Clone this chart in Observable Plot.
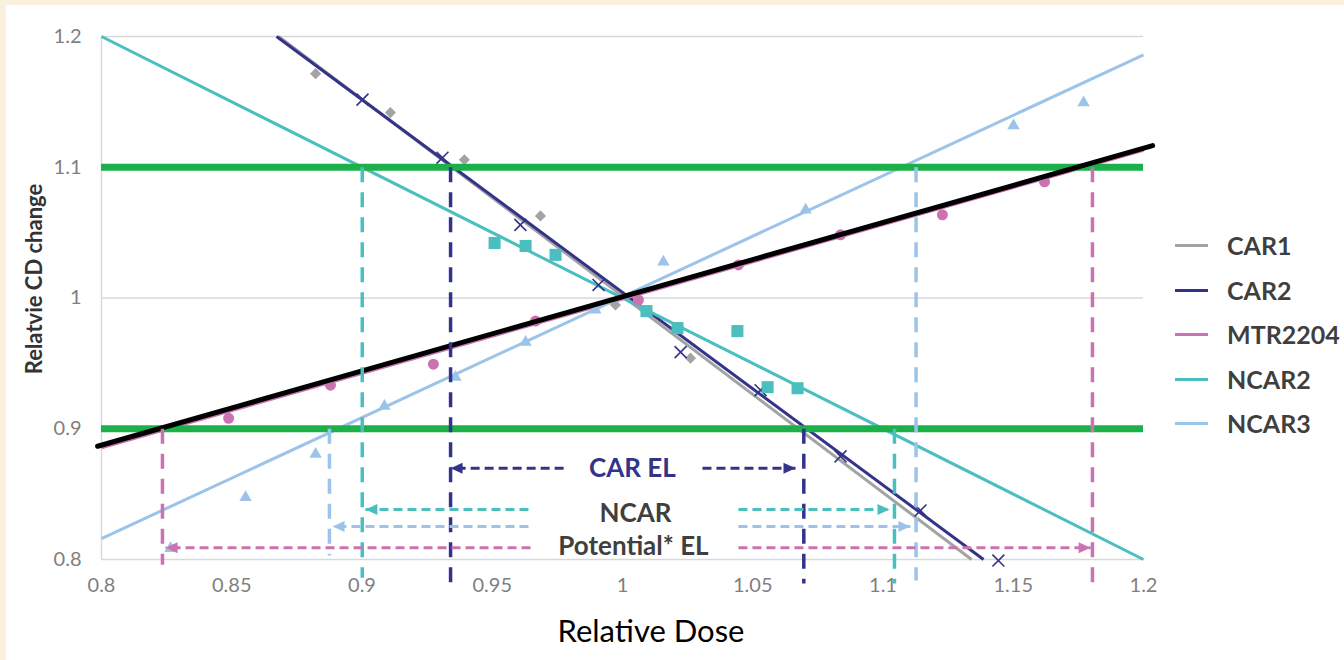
<!DOCTYPE html>
<html>
<head>
<meta charset="utf-8">
<script src="https://cdn.jsdelivr.net/npm/d3@7"></script>
<script src="https://cdn.jsdelivr.net/npm/@observablehq/plot@0.6"></script>
<style>
  html, body { margin: 0; padding: 0; width: 1344px; height: 660px; overflow: hidden; background: #FAF0DE; }
  #panel { position: absolute; left: 6px; top: 5px; right: 0; bottom: 0; background: #ffffff; }
  #chart { position: absolute; left: 0; top: 0; }
  #ylabel { position: absolute; left: 33px; top: 279px; transform: translate(-50%, -50%) rotate(-90deg);
            font: bold 22px Lato, sans-serif; color: #333333; white-space: nowrap; }
  #xlabel { position: absolute; left: 651px; top: 630px; transform: translate(-50%, -50%);
            font: 31px Lato, sans-serif; color: #000000; white-space: nowrap; }
  .sw { position: absolute; left: 1175px; width: 33px; height: 3px; }
  .lt { position: absolute; left: 1227px; transform: translateY(-50%); font: bold 25px Lato, sans-serif;
        color: #3f3f3f; white-space: nowrap; line-height: 1; }
</style>
</head>
<body>
<div id="panel"></div>
<div id="chart"></div>
<div id="ylabel">Relatvie CD change</div>
<div id="xlabel">Relative Dose</div>
<div id="legend"></div>
<script>
// ---------- data ----------
const series = ["CAR1", "CAR2", "MTR2204", "NCAR2", "NCAR3"];
const seriesColors = ["#a3a3a3", "#33338a", "#cb73b1", "#4bbfc0", "#9cc3e9"];

const xTicks = [0.8, 0.85, 0.9, 0.95, 1, 1.05, 1.1, 1.15, 1.2];
const yTicks = [0.8, 0.9, 1, 1.1, 1.2];

// fitted lines (end points)
const fitX1 = [0.868, 0.8672, 0.8, 0.8, 0.8];
const fitY1 = [1.2, 1.2, 0.8855, 1.2, 0.816];
const fitX2 = [1.134, 1.1386, 1.2, 1.2, 1.2];
const fitY2 = [0.8, 0.8, 1.113, 0.8, 1.186];

// observed points
const car1X = [0.8822, 0.9109, 0.9393, 0.9685, 0.9973, 1.0261];
const car1Y = [1.1716, 1.1418, 1.1057, 1.0628, 0.9946, 0.954];
const car2X = [0.9002, 0.9309, 0.9608, 0.9908, 1.0223, 1.053, 1.0837, 1.1144, 1.1443];
const car2Y = [1.1517, 1.1073, 1.0559, 1.01, 0.9586, 0.9295, 0.8789, 0.8375, 0.7992];
const mtrX = [0.8488, 0.8879, 0.9274, 0.9666, 1.0061, 1.0445, 1.0837, 1.1228, 1.162];
const mtrY = [0.908, 0.9333, 0.9494, 0.9824, 0.9985, 1.0253, 1.0483, 1.0636, 1.0889];
const ncar2X = [0.9509, 0.9628, 0.9743, 1.0092, 1.0211, 1.0441, 1.0557, 1.0672];
const ncar2Y = [1.0421, 1.0398, 1.033, 0.99, 0.977, 0.9747, 0.9318, 0.931];
const ncar3X = [0.8265, 0.8553, 0.8822, 0.9086, 0.9359, 0.9628, 0.9896, 1.0157, 1.0703, 1.1501, 1.177];
const ncar3Y = [0.8084, 0.8475, 0.8805, 0.9172, 0.9395, 0.9663, 0.9908, 1.0276, 1.0674, 1.1318, 1.1494];

// limits
const limitY = [0.9, 1.1];
// overall trend (black)
const trendX = [0.7985, 1.2035];
const trendY = [0.8866, 1.1165];

// vertical dashed limit markers
const vSeries = ["MTR2204", "NCAR3", "NCAR2", "CAR2", "CAR2", "NCAR2", "NCAR3", "MTR2204"];
const vX = [0.8234, 0.8875, 0.9001, 0.934, 1.0696, 1.1044, 1.1127, 1.1804];
const vTop = [0.9, 0.9, 1.1, 1.1, 0.9, 0.9, 1.1, 1.1];
const vBottom = [0.796, 0.803, 0.786, 0.7816, 0.7816, 0.7816, 0.784, 0.7816];

// horizontal dashed arrows (tail -> tip)
const hSeries = ["CAR2", "CAR2", "NCAR2", "NCAR2", "NCAR3", "NCAR3", "MTR2204", "MTR2204"];
const hY = [0.8697, 0.8697, 0.8383, 0.8383, 0.8253, 0.8253, 0.809, 0.809];
const hTail = [0.9774, 1.0307, 0.9639, 1.0445, 0.9639, 1.0445, 0.9647, 1.0445];
const hTip = [0.934, 1.0664, 0.9013, 1.1025, 0.8887, 1.1105, 0.8246, 1.1797];

// annotation labels
const noteText = ["CAR EL", "NCAR", "Potential* EL"];
const noteX = [1.0038, 1.005, 1.0042];
const noteY = [0.8697, 0.8352, 0.81];
const noteColor = ["#33338a", "#3f3f3f", "#3f3f3f"];

// ---------- build tables ----------
const fits = series.map((s, i) => ({s, x1: fitX1[i], y1: fitY1[i], x2: fitX2[i], y2: fitY2[i]}));
const pts = (s, xs, ys) => xs.map((x, i) => ({s, x, y: ys[i]}));
const car1 = pts("CAR1", car1X, car1Y);
const car2 = pts("CAR2", car2X, car2Y);
const mtr = pts("MTR2204", mtrX, mtrY);
const ncar2 = pts("NCAR2", ncar2X, ncar2Y);
const ncar3 = pts("NCAR3", ncar3X, ncar3Y);
const verts = vSeries.map((s, i) => ({s, x: vX[i], y1: vTop[i], y2: vBottom[i]}));
const horiz = hSeries.map((s, i) => ({s, y: hY[i], x1: hTail[i], x2: hTip[i], dir: hTip[i] > hTail[i] ? 1 : -1}));
const notes = noteText.map((t, i) => ({t, x: noteX[i], y: noteY[i], c: noteColor[i]}));

const triRight = {draw(c) { c.moveTo(0, 0); c.lineTo(-12, -5.5); c.lineTo(-12, 5.5); c.closePath(); }};
const triLeft = {draw(c) { c.moveTo(0, 0); c.lineTo(12, -5.5); c.lineTo(12, 5.5); c.closePath(); }};
const fmt = d => String(+d.toFixed(2));

const chart = Plot.plot({
  width: 1344, height: 660,
  marginLeft: 101, marginRight: 201, marginTop: 36, marginBottom: 101,
  x: {domain: [0.8, 1.2]},
  y: {domain: [0.8, 1.2]},
  color: {domain: series, range: seriesColors},
  style: {background: "transparent", fontFamily: "Lato, sans-serif", overflow: "visible"},
  marks: [
    Plot.gridY(yTicks, {stroke: "#d9d9d9", strokeOpacity: 1, strokeWidth: 1.5}),
    Plot.ruleX([0.8], {y1: 0.8, y2: 1.2, stroke: "#d9d9d9", strokeWidth: 1.5}),
    Plot.axisX(xTicks, {tickSize: 0, tickPadding: 18, tickFormat: fmt, fontSize: 20, fill: "#7f7f7f", color: "#7f7f7f", label: null}),
    Plot.axisY(yTicks, {tickSize: 0, tickPadding: 20, tickFormat: fmt, fontSize: 20, fill: "#7f7f7f", color: "#7f7f7f", label: null}),
    // fitted lines
    Plot.link(fits, {x1: "x1", y1: "y1", x2: "x2", y2: "y2", stroke: "s", strokeWidth: 3}),
    // points
    Plot.dot(car1, {x: "x", y: "y", symbol: "diamond2", r: 5, fill: "s"}),
    Plot.dot(car2, {x: "x", y: "y", symbol: "times", r: 5.5, stroke: "s", strokeWidth: 1.6}),
    Plot.dot(mtr, {x: "x", y: "y", symbol: "circle", r: 5.5, fill: "s"}),
    Plot.dot(ncar2, {x: "x", y: "y", symbol: "square", r: 6.8, fill: "s"}),
    Plot.dot(ncar3, {x: "x", y: "y", symbol: "triangle", r: 4.6, fill: "s"}),
    // limits
    Plot.ruleY(limitY, {x1: 0.8, x2: 1.2, stroke: "#1cb04a", strokeWidth: 7}),
    // trend
    Plot.line(trendX.map((x, i) => ({x, y: trendY[i]})), {x: "x", y: "y", stroke: "#000000", strokeWidth: 5}),
    // vertical dashed
    Plot.link(verts, {x1: "x", x2: "x", y1: "y1", y2: "y2", stroke: "s", strokeWidth: 3.5, strokeDasharray: "15,10"}),
    // horizontal dashed arrows
    Plot.link(horiz, {x1: "x1", x2: "x2", y1: "y", y2: "y", stroke: "s", strokeWidth: 3, strokeDasharray: "9,5"}),
    Plot.dot(horiz.filter(d => d.dir > 0), {x: "x2", y: "y", symbol: triRight, fill: "s", r: 5}),
    Plot.dot(horiz.filter(d => d.dir < 0), {x: "x2", y: "y", symbol: triLeft, fill: "s", r: 5}),
    // annotations
    Plot.text(notes, {x: "x", y: "y", text: "t", fill: "c", fontSize: 26, fontWeight: "bold", textAnchor: "middle",
                      letterSpacing: "1.2px"})
  ]
});
document.getElementById("chart").appendChild(chart);

// legend
const legendY = [245, 290, 334, 379, 423];
const leg = document.getElementById("legend");
series.forEach((s, i) => {
  const sw = document.createElement("div");
  sw.className = "sw";
  sw.style.top = (legendY[i] - 1.5) + "px";
  sw.style.background = seriesColors[i];
  leg.appendChild(sw);
  const t = document.createElement("div");
  t.className = "lt";
  t.style.top = legendY[i] + "px";
  t.textContent = s;
  leg.appendChild(t);
});
</script>
</body>
</html>
